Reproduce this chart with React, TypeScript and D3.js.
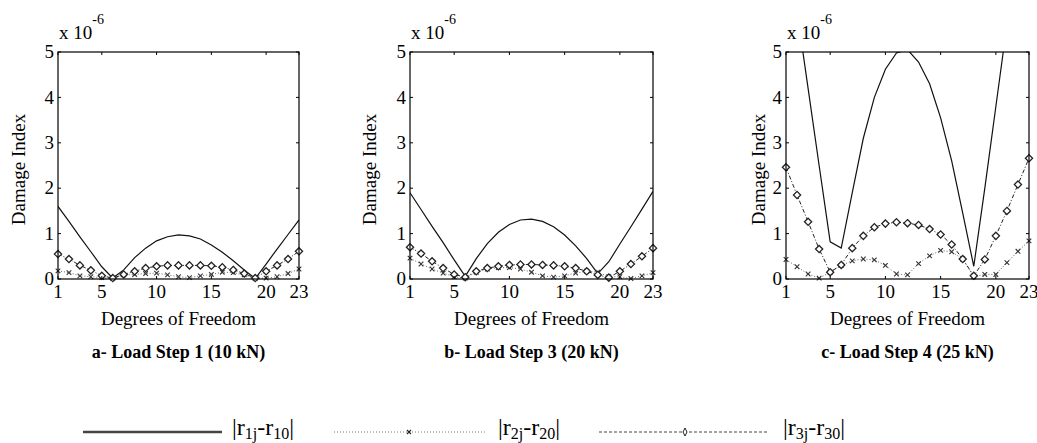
import React from "react";
import * as d3 from "d3";

const dof = [1, 2, 3, 4, 5, 6, 7, 8, 9, 10, 11, 12, 13, 14, 15, 16, 17, 18, 19, 20, 21, 22, 23];
const xTicks = [1, 5, 10, 15, 20, 23];
const yTicks = [0, 1, 2, 3, 4, 5];

// values in units of 1e-6
const step1R1 = [1.6, 1.27, 0.93, 0.6, 0.27, 0.02, 0.2, 0.47, 0.68, 0.84, 0.93, 0.97, 0.95, 0.88, 0.75, 0.59, 0.4, 0.2, 0.01, 0.33, 0.66, 0.98, 1.3];
const step1R2 = [0.18, 0.14, 0.07, 0.05, 0.03, 0.01, 0.09, 0.1, 0.12, 0.13, 0.09, 0.05, 0.03, 0.07, 0.1, 0.15, 0.14, 0.09, 0.01, 0.02, 0.05, 0.12, 0.22];
const step1R3 = [0.55, 0.44, 0.3, 0.19, 0.07, 0.02, 0.1, 0.17, 0.24, 0.28, 0.3, 0.3, 0.3, 0.3, 0.29, 0.26, 0.2, 0.12, 0.02, 0.17, 0.3, 0.44, 0.61];

const step3R1 = [1.9, 1.53, 1.16, 0.8, 0.42, 0.06, 0.45, 0.78, 1.03, 1.2, 1.3, 1.32, 1.27, 1.15, 0.97, 0.73, 0.45, 0.12, 0.38, 0.77, 1.15, 1.54, 1.93];
const step3R2 = [0.46, 0.33, 0.22, 0.13, 0.05, 0.02, 0.15, 0.22, 0.25, 0.25, 0.22, 0.15, 0.07, 0.04, 0.07, 0.13, 0.17, 0.15, 0.05, 0.05, 0.01, 0.07, 0.14];
const step3R3 = [0.7, 0.56, 0.39, 0.24, 0.1, 0.04, 0.17, 0.24, 0.28, 0.31, 0.32, 0.32, 0.31, 0.3, 0.28, 0.24, 0.17, 0.09, 0.03, 0.17, 0.33, 0.5, 0.68];

const step4R1 = [7.6, 5.9, 4.2, 2.5, 0.82, 0.68, 1.9, 3.1, 4.0, 4.62, 4.98, 5.05, 4.78, 4.3, 3.55, 2.6, 1.45, 0.28, 2.0, 3.8, 5.6, 7.5, 9.4];
const step4R2 = [0.43, 0.27, 0.11, 0.02, 0.15, 0.3, 0.4, 0.44, 0.42, 0.3, 0.11, 0.09, 0.34, 0.51, 0.63, 0.6, 0.44, 0.05, 0.1, 0.1, 0.36, 0.61, 0.84];
const step4R3 = [2.46, 1.85, 1.26, 0.66, 0.15, 0.31, 0.68, 0.95, 1.14, 1.22, 1.25, 1.23, 1.19, 1.1, 0.98, 0.76, 0.44, 0.07, 0.43, 0.95, 1.5, 2.08, 2.66];

const captions = ["a- Load Step 1 (10 kN)", "b- Load Step 3 (20 kN)", "c- Load Step 4 (25 kN)"];

const font = '"Liberation Serif", "Times New Roman", serif';
const top = 52;
const bottom = 279;

const panels = [
  { left: 58, right: 299, labelX: 19, r1: step1R1, r2: step1R2, r3: step1R3 },
  { left: 410, right: 653, labelX: 370, r1: step3R1, r2: step3R2, r3: step3R3 },
  { left: 786, right: 1029, labelX: 759, r1: step4R1, r2: step4R2, r3: step4R3 },
];

const Diamond = ({ x, y, s = 3.6 }) => (
  <path d={`M${x},${y - s}L${x + s},${y}L${x},${y + s}L${x - s},${y}Z`} fill="#fff" stroke="#222" strokeWidth={1.3} />
);

const Cross = ({ x, y, s = 2.3, color = "#333" }) => (
  <path d={`M${x - s},${y - s}L${x + s},${y + s}M${x - s},${y + s}L${x + s},${y - s}`} stroke={color} strokeWidth={1.1} />
);

const Panel = ({ p, i }) => {
  const x = d3.scaleLinear().domain([1, 23]).range([p.left, p.right]);
  const y = d3.scaleLinear().domain([0, 5]).range([bottom, top]);
  const line = d3
    .line<number>()
    .x((_, k) => x(dof[k]))
    .y((d) => y(d));
  const cx = (p.left + p.right) / 2;
  const clipId = `clip${i}`;
  return (
    <g>
      <defs>
        <clipPath id={clipId}>
          <rect x={p.left} y={top} width={p.right - p.left} height={bottom - top} />
        </clipPath>
      </defs>
      <g clipPath={`url(#${clipId})`}>
        <path d={line(p.r1)} fill="none" stroke="#111" strokeWidth={1.2} />
        <path d={line(p.r2)} fill="none" stroke="#666" strokeWidth={1} strokeDasharray="1,2" />
        <path d={line(p.r3)} fill="none" stroke="#222" strokeWidth={1} strokeDasharray="4,2,1,2" />
      </g>
      {p.r2.map((v, k) => (
        <Cross key={"c" + k} x={x(dof[k])} y={y(v)} />
      ))}
      {p.r3.map((v, k) => (
        <Diamond key={"d" + k} x={x(dof[k])} y={y(v)} />
      ))}
      <rect x={p.left} y={top} width={p.right - p.left} height={bottom - top} fill="none" stroke="#000" strokeWidth={1.2} />
      {xTicks.map((t) => (
        <g key={"xt" + t}>
          <line x1={x(t)} x2={x(t)} y1={bottom} y2={bottom - 3} stroke="#000" />
          <line x1={x(t)} x2={x(t)} y1={top} y2={top + 3} stroke="#000" />
          <text x={x(t)} y={298} textAnchor="middle" fontSize={19}>
            {t}
          </text>
        </g>
      ))}
      {yTicks.map((t) => (
        <g key={"yt" + t}>
          <line x1={p.left} x2={p.left + 3} y1={y(t)} y2={y(t)} stroke="#000" />
          <line x1={p.right} x2={p.right - 3} y1={y(t)} y2={y(t)} stroke="#000" />
          <text x={p.left - 4} y={y(t)} dy="0.33em" textAnchor="end" fontSize={19}>
            {t}
          </text>
        </g>
      ))}
      <text x={p.left + 1} y={39} fontSize={19}>
        x 10
        <tspan dy={-15} fontSize={14}>
          -6
        </tspan>
      </text>
      <text
        transform={`translate(${p.labelX},${(top + bottom) / 2 + 4}) rotate(-90)`}
        textAnchor="middle"
        dy="0.33em"
        fontSize={19}
      >
        Damage Index
      </text>
      <text x={cx} y={325} textAnchor="middle" fontSize={19}>
        Degrees of Freedom
      </text>
      <text x={cx} y={358} textAnchor="middle" fontSize={18} fontWeight="bold">
        {captions[i]}
      </text>
    </g>
  );
};

const LegendLabel = ({ x, a, b }) => (
  <text x={x} y={435} fontSize={24}>
    |r
    <tspan fontSize={16} dy={4}>
      {a}
    </tspan>
    <tspan dy={-4}>-r</tspan>
    <tspan fontSize={16} dy={4}>
      {b}
    </tspan>
    <tspan dy={-4}>|</tspan>
  </text>
);

export default function App() {
  return (
    <svg
      width={1037}
      height={443}
      style={{ position: "absolute", left: 0, top: 0, background: "#fff", fontFamily: font }}
    >
      {panels.map((p, i) => (
        <Panel key={i} p={p} i={i} />
      ))}
      <line x1={83} x2={222} y1={432} y2={432} stroke="#444" strokeWidth={2.5} />
      <LegendLabel x={232} a="1j" b="10" />
      <line x1={334} x2={487} y1={432} y2={432} stroke="#777" strokeWidth={1} strokeDasharray="1,2" />
      <Cross x={409} y={432} s={2} color="#222" />
      <LegendLabel x={498} a="2j" b="20" />
      <line x1={599} x2={767} y1={432} y2={432} stroke="#444" strokeWidth={1} strokeDasharray="3,2" />
      <path d="M685,428L687,432L685,436L683,432Z" fill="#fff" stroke="#222" strokeWidth={1} />
      <LegendLabel x={783} a="3j" b="30" />
    </svg>
  );
}
